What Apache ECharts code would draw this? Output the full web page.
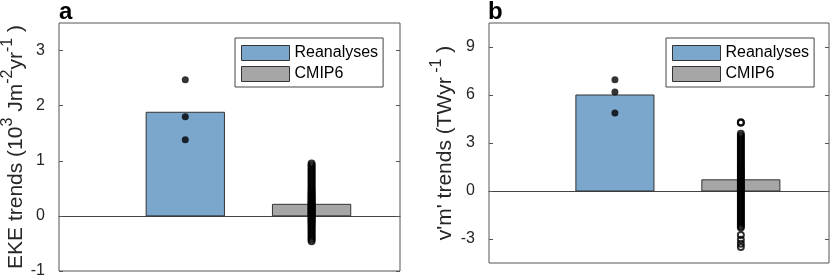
<!DOCTYPE html>
<html><head><meta charset="utf-8">
<script src="https://cdn.jsdelivr.net/npm/echarts@6/dist/echarts.min.js"></script>
<style>html,body{margin:0;padding:0;background:#fff}#c{width:830px;height:280px}</style>
</head><body><div id="c"></div>
<script>
// ---- data ----
const groupPos = [1, 2];
const barNames = ['Reanalyses', 'CMIP6'];
const ekeBars = [1.88, 0.21];
const ekeReanalyses = [2.47, 1.80, 1.38];
const ekeCmip6 = [-0.46, -0.43, -0.4, -0.37, -0.34, -0.31, -0.28, -0.25, -0.22, -0.19, -0.17, -0.14, -0.12, -0.1, -0.08,
  -0.06, -0.04, -0.02, 0.0, 0.02, 0.03, 0.05, 0.06, 0.08, 0.09, 0.11, 0.12, 0.14, 0.15, 0.17, 0.18, 0.2, 0.21, 0.23,
  0.24, 0.26, 0.28, 0.3, 0.32, 0.34, 0.36, 0.38, 0.4, 0.42, 0.45, 0.47, 0.5, 0.53, 0.56, 0.59, 0.62, 0.65, 0.68, 0.71,
  0.74, 0.77, 0.8, 0.83, 0.86, 0.89, 0.92, 0.95];
const vmBars = [6.0, 0.7];
const vmReanalyses = [6.95, 6.18, 4.88];
const vmCmip6 = [4.3, 4.26, 3.58, 3.46, 3.36, 3.25, 3.14, 3.03, 2.92, 2.81, 2.7, 2.59, 2.48, 2.37, 2.26, 2.15, 2.05, 1.95,
  1.85, 1.75, 1.65, 1.55, 1.45, 1.35, 1.26, 1.17, 1.08, 0.99, 0.9, 0.81, 0.72, 0.63, 0.54, 0.45, 0.36, 0.27, 0.18,
  0.09, 0.0, -0.1, -0.2, -0.3, -0.4, -0.5, -0.6, -0.7, -0.8, -0.9, -1.0, -1.1, -1.2, -1.3, -1.4, -1.5, -1.6, -1.7,
  -1.8, -1.9, -2.0, -2.1, -2.2, -2.28, -2.75, -3.05, -3.3, -3.5];
const ekeTicks = [-1, 0, 1, 2, 3];
const vmTicks = [-3, 0, 3, 6, 9];

// ---- styling ----
const FONT = 'Liberation Sans, Arial, Helvetica, sans-serif';
const BLUE = '#7ba7cc';
const GRAY = '#a6a6a6';
const BAR_HALF = 0.31;
const AX = '#555';

function barSeries(name, gi, x, v, color) {
  return {
    type: 'custom', name: name, xAxisIndex: gi, yAxisIndex: gi * 2, z: 2,
    itemStyle: {color: color, borderColor: '#333', borderWidth: 1},
    data: [[x, v]],
    renderItem: function (params, api) {
      const p0 = api.coord([api.value(0) - BAR_HALF, api.value(1)]);
      const p1 = api.coord([api.value(0) + BAR_HALF, 0]);
      return {type: 'rect', shape: {x: p0[0], y: Math.min(p0[1], p1[1]), width: p1[0] - p0[0], height: Math.abs(p1[1] - p0[1])},
        style: {fill: color, stroke: '#333', lineWidth: 1}};
    }
  };
}
function dots(gi, x, vals, filled) {
  return {
    type: 'scatter', xAxisIndex: gi, yAxisIndex: gi * 2, z: 3, symbol: 'circle',
    symbolSize: filled ? 7 : 6,
    itemStyle: filled ? {color: '#000'} : {color: 'rgba(0,0,0,0)', borderColor: '#000', borderWidth: 2},
    data: vals.map(v => [x, v]), silent: true
  };
}
function xAx(gi) {
  return {gridIndex: gi, type: 'value', min: 0, max: 2.7,
    axisLine: {show: true, onZero: true, lineStyle: {color: '#444', width: 1}},
    axisTick: {show: false}, axisLabel: {show: false}, splitLine: {show: false}};
}
function yAx(gi, min, max, ticks, name, gap, right) {
  return {gridIndex: gi, type: 'value', min: min, max: max, position: right ? 'right' : 'left',
    axisLine: {show: false, onZero: false},
    axisTick: {show: true, inside: true, length: 4, lineStyle: {color: AX}, customValues: ticks},
    axisLabel: right ? {show: false} : {customValues: ticks, fontSize: 16, color: '#262626', margin: 14, fontFamily: FONT},
    splitLine: {show: false},
    name: right ? '' : name, nameLocation: 'middle', nameGap: gap, nameRotate: 90,
    nameTextStyle: {fontFamily: FONT, color: '#262626',
      rich: {
        n: {fontSize: 21, fontFamily: FONT, color: '#262626', verticalAlign: 'bottom'},
        s: {fontSize: 16, fontFamily: FONT, color: '#262626', verticalAlign: 'bottom', padding: [0, 0, 11, 0]}
      }}
  };
}
function legend(left) {
  return {data: barNames, orient: 'vertical', left: left, top: 38, padding: [7, 5, 5, 6], itemGap: 5,
    itemWidth: 48, itemHeight: 15, icon: 'rect', borderColor: '#444', borderWidth: 1, backgroundColor: '#fff',
    itemStyle: {borderColor: '#333', borderWidth: 1},
    textStyle: {fontSize: 16, color: '#000', fontFamily: FONT}, selectedMode: false};
}

const chart = echarts.init(document.getElementById('c'), null, {renderer: 'canvas'});
chart.setOption({
  animation: false,
  backgroundColor: '#fff',
  grid: [
    {left: 59, top: 23, width: 341, height: 248, show: true, borderColor: AX, borderWidth: 1,
      backgroundColor: 'transparent', outerBoundsMode: 'none', containLabel: false},
    {left: 489, top: 23, width: 340, height: 240, show: true, borderColor: AX, borderWidth: 1,
      backgroundColor: 'transparent', outerBoundsMode: 'none', containLabel: false}
  ],
  xAxis: [xAx(0), xAx(1)],
  yAxis: [
    yAx(0, -1, 3.5, ekeTicks, '{n|EKE trends (10}{s|3}{n| Jm}{s|-2}{n|yr}{s|-1}{n| )}', 31, false),
    yAx(0, -1, 3.5, ekeTicks, '', 0, true),
    yAx(1, -4.5, 10.5, vmTicks, "{n|v'm' trends (TWyr}{s| -1}{n| )}", 33, false),
    yAx(1, -4.5, 10.5, vmTicks, '', 0, true)
  ],
  legend: [legend(235), legend(666)],
  graphic: [
    {type: 'text', x: 59, y: 24, style: {text: 'a', font: 'bold 24px ' + FONT, fill: '#000', verticalAlign: 'bottom'}},
    {type: 'text', x: 488, y: 24, style: {text: 'b', font: 'bold 24px ' + FONT, fill: '#000', verticalAlign: 'bottom'}}
  ],
  series: [
    barSeries(barNames[0], 0, groupPos[0], ekeBars[0], BLUE),
    barSeries(barNames[1], 0, groupPos[1], ekeBars[1], GRAY),
    dots(0, groupPos[0], ekeReanalyses, true),
    dots(0, groupPos[1], ekeCmip6, false),
    barSeries(barNames[0], 1, groupPos[0], vmBars[0], BLUE),
    barSeries(barNames[1], 1, groupPos[1], vmBars[1], GRAY),
    dots(1, groupPos[0], vmReanalyses, true),
    dots(1, groupPos[1], vmCmip6, false)
  ]
});
</script></body></html>
